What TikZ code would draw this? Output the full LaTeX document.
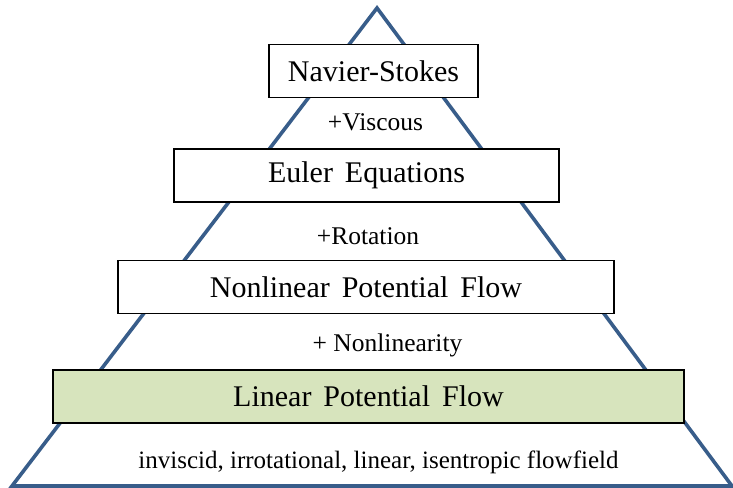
\documentclass[tikz,border=0pt]{standalone}
\usepackage{fontspec}
\setmainfont{Liberation Serif}
\usepackage{tikz}
\usetikzlibrary{positioning,calc}
\usepackage{xcolor}
\definecolor{pyrblue}{RGB}{56,93,138}
\definecolor{softolive}{RGB}{215,228,189}
\tikzset{
  levelbox/.style={draw=black,line width=1.3pt,fill=white,minimum height=53pt,
    inner sep=0pt,align=center,font=\fontsize{30}{32}\selectfont},
  levelboxg/.style={levelbox,fill=softolive},
  steplabel/.style={inner sep=0pt,font=\fontsize{25.5}{28}\selectfont},
  pyrline/.style={draw=pyrblue,line width=3.6pt,line join=miter}
}
\begin{document}
\begin{tikzpicture}[x=1pt,y=-1pt]
  \useasboundingbox (0,0) rectangle (733,487);
  % pyramid outline
  \coordinate (apex) at (377,8);
  \coordinate (baseL) at (12,486);
  \coordinate (baseR) at (732,486);
  \draw[pyrline] (baseL) -- (apex) -- (baseR) -- cycle;
  % model levels
  \node[levelbox,minimum width=209pt] (navier) at (373.5,71) {Navier-Stokes};
  \node[levelbox,minimum width=385pt] (euler) at (366.5,175.5) {Euler\hspace{0.4em}Equations};
  \node[levelbox,minimum width=496pt] (nonlin) at (366,287) {Nonlinear\hspace{0.4em}Potential\hspace{0.4em}Flow};
  \node[levelboxg,minimum width=631pt] (linear) at (368.5,396.5) {Linear\hspace{0.4em}Potential\hspace{0.4em}Flow};
  % added physics
  \node[steplabel] (viscous) at (375.5,122) {+Viscous};
  \node[steplabel] (rotation) at (368,236) {+Rotation};
  \node[steplabel] (nonlinearity) at (387.5,345) {+ Nonlinearity};
  \node[steplabel,font=\fontsize{25}{28}\selectfont] (assume) at (378.5,462)
    {inviscid,\ irrotational,\ linear,\ isentropic flowfield};
\end{tikzpicture}
\end{document}
